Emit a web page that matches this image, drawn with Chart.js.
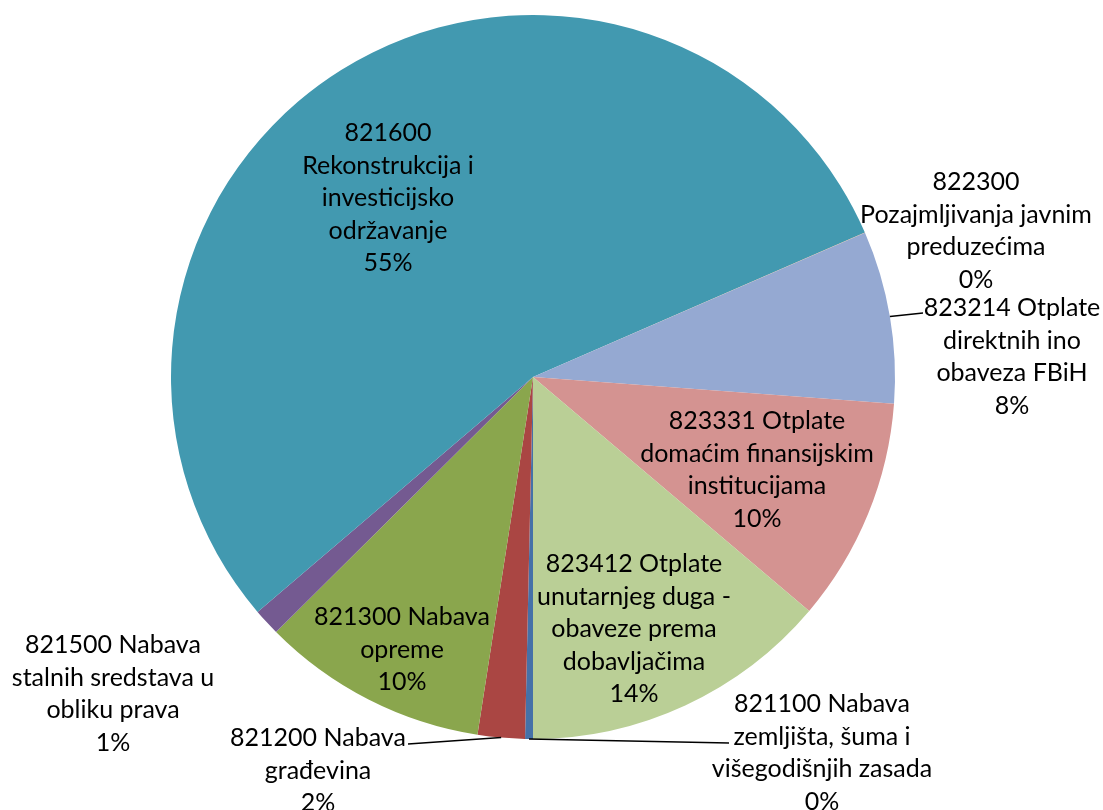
<!DOCTYPE html>
<html>
<head>
<meta charset="utf-8">
<script src="https://cdn.jsdelivr.net/npm/chart.js@4"></script>
<style>
    body { margin: 0; background: #fff; }
    #wrap { width: 1103px; height: 810px; }
</style>
</head>
<body>
<div id="wrap"><canvas id="pieChart" width="1103" height="810"></canvas></div>
<script>
// Slice data, in the order Excel draws them (clockwise, starting at 6 o'clock)
const codes = ['821100', '821200', '821300', '821500', '821600', '822300', '823214', '823331', '823412'];
const values = [0.35, 2.1, 10.1, 1.2, 54.65, 0.01, 7.7, 10.0, 13.8];
const colors = ['#4571A8', '#AA4643', '#8AA64D', '#745A91', '#4299B0', '#F79646', '#95A9D2', '#D49391', '#BACF96'];

// Label text, wrapped as in the original (percentage line is added from the data)
const labelLines = [
    ['821100 Nabava', 'zemljišta, šuma i', 'višegodišnjih zasada'],
    ['821200 Nabava', 'građevina'],
    ['821300 Nabava', 'opreme'],
    ['821500 Nabava', 'stalnih sredstava u', 'obliku prava'],
    ['821600', 'Rekonstrukcija i', 'investicijsko', 'održavanje'],
    ['822300', 'Pozajmljivanja javnim', 'preduzećima'],
    ['823214 Otplate', 'direktnih ino', 'obaveza FBiH'],
    ['823331 Otplate', 'domaćim finansijskim', 'institucijama'],
    ['823412 Otplate', 'unutarnjeg duga -', 'obaveze prema', 'dobavljačima']
];

// Where each label block sits (centre x, first line y) and where its leader line ends
const labelLayout = [
    { x: 822, y: 704, leader: { x: 729, y: 743 } },
    { x: 318, y: 738, leader: { x: 408, y: 744 } },
    { x: 402, y: 617 },
    { x: 113, y: 645 },
    { x: 388, y: 133 },
    { x: 976, y: 182 },
    { x: 1012, y: 308, leader: { x: 923, y: 313 } },
    { x: 757, y: 421 },
    { x: 634, y: 564 }
];

const FONT = '25px Lato, "Open Sans", sans-serif';
const LINE_H = 32.5;

const pieLabels = {
    id: 'pieLabels',
    afterDatasetsDraw(chart) {
        const ctx = chart.ctx;
        const meta = chart.getDatasetMeta(0);
        const data = chart.data.datasets[0].data;
        const total = data.reduce((a, b) => a + b, 0);
        ctx.save();
        ctx.fillStyle = '#000';
        ctx.strokeStyle = '#000';
        ctx.lineWidth = 1.5;
        ctx.font = FONT;
        ctx.textAlign = 'center';
        ctx.textBaseline = 'middle';
        meta.data.forEach((arc, i) => {
            const lay = labelLayout[i];
            const lines = labelLines[i].concat([Math.round(data[i] / total * 100) + '%']);
            lines.forEach((t, k) => ctx.fillText(t, lay.x, lay.y + k * LINE_H));
            if (lay.leader) {
                const p = arc.getProps(['x', 'y', 'startAngle', 'endAngle', 'outerRadius'], true);
                const mid = (p.startAngle + p.endAngle) / 2;
                ctx.beginPath();
                ctx.moveTo(p.x + Math.cos(mid) * p.outerRadius, p.y + Math.sin(mid) * p.outerRadius);
                ctx.lineTo(lay.leader.x, lay.leader.y);
                ctx.stroke();
            }
        });
        ctx.restore();
    }
};

new Chart(document.getElementById('pieChart'), {
    type: 'pie',
    data: {
        labels: codes,
        datasets: [{
            data: values,
            backgroundColor: colors,
            borderWidth: 0
        }]
    },
    options: {
        responsive: false,
        animation: false,
        rotation: 180,
        layout: {
            padding: { top: 15, bottom: 71, left: 171, right: 208 }
        },
        plugins: {
            legend: { display: false },
            tooltip: { enabled: false }
        }
    },
    plugins: [pieLabels]
});
</script>
</body>
</html>
